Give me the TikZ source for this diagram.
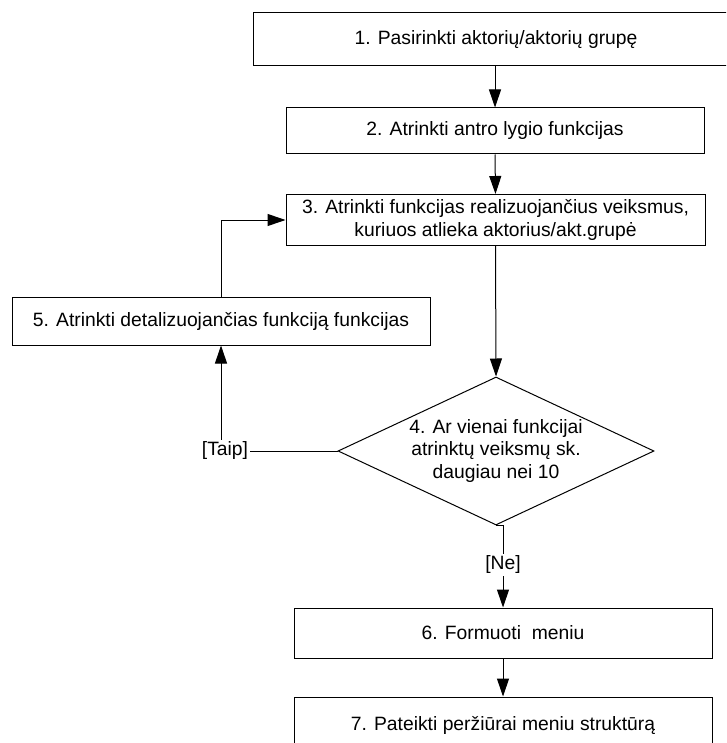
\documentclass[tikz,border=0pt]{standalone}
\usepackage{fontspec}
\setmainfont{Liberation Sans}
\usetikzlibrary{arrows.meta,shapes.geometric}

\begin{document}
\begin{tikzpicture}[x=1pt,y=-1pt,
  every node/.style={font=\fontsize{19.3}{23}\selectfont},
  stepbox/.style={draw=black,line width=1pt,rectangle,inner sep=0pt,align=center},
  decision/.style={draw=black,line width=1pt,diamond,inner sep=0pt,
    minimum width=316pt,minimum height=148pt},
  guard/.style={inner sep=2pt},
  arr/.style={line width=1pt,-{Triangle[length=18pt,width=12pt]}},
  link/.style={line width=1pt}]

\useasboundingbox (0,0) rectangle (726,743);
\clip (0,0) rectangle (726,743);
\fill[white] (0,0) rectangle (726,743);

% process steps
\node[stepbox,minimum width=486pt,minimum height=53pt] (b1) at (496,39.5)
  {1. Pasirinkti aktorių/aktorių grupę};
\node[stepbox,minimum width=418pt,minimum height=46pt] (b2) at (495,131)
  {2. Atrinkti antro lygio funkcijas};
\node[stepbox,minimum width=419pt,minimum height=51pt] (b3) at (495.5,220)
  {3. Atrinkti funkcijas realizuojančius veiksmus,\\kuriuos atlieka aktorius/akt.grupė};
\node[stepbox,minimum width=418pt,minimum height=48pt] (b5) at (221,321)
  {5. Atrinkti detalizuojančias funkciją funkcijas};
\node[decision,label={[align=center,font=\fontsize{19.3}{22.5}\selectfont]center:4. Ar vienai funkcijai\\atrinktų veiksmų sk.\\daugiau nei 10}]
  (d) at (496,451) {};
\node[stepbox,minimum width=418pt,minimum height=50pt] (b6) at (503,633)
  {6. Formuoti\ \ meniu};
\node[stepbox,minimum width=418pt,minimum height=56pt] (b7) at (503,725)
  {7. Pateikti peržiūrai meniu struktūrą};

% branch guards
\node[guard] (taip) at (225,451) {[Taip]};
\node[guard] (ne) at (503,565) {[Ne]};

% connectors
\draw[arr] (b2.north |- b1.south) -- (b2.north);
\draw[arr] (b2.south) -- (b3.north);
\draw[arr] (b3.south) -- (d.north);
\draw[link] (d.west) -- (d.west -| taip.east);
\draw[arr] (b5.south |- taip.north) -- (b5.south);
\draw[arr] (b5.north) |- (b3.west);
\draw[link] (d.south) -| (ne.north);
\draw[arr] (ne.south) -- (b6.north);
\draw[arr] (b6.south) -- (b7.north);
\end{tikzpicture}
\end{document}
